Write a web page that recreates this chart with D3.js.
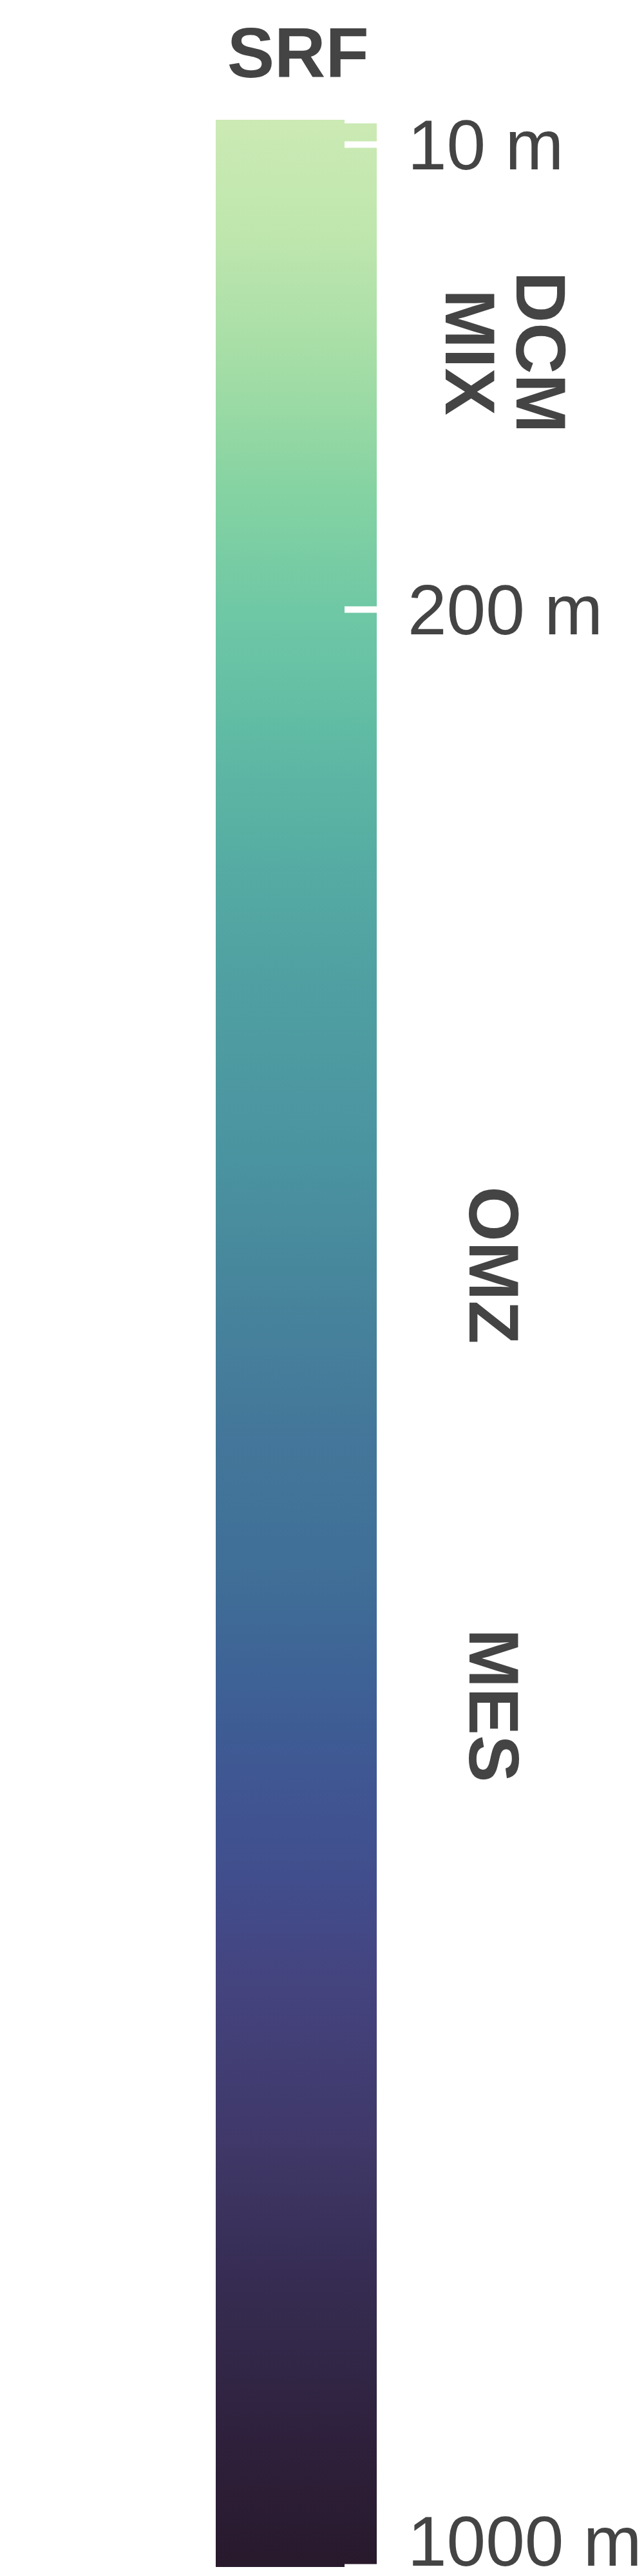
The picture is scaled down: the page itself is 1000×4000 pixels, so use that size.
<!DOCTYPE html>
<html>
<head>
<meta charset="utf-8">
<script src="https://cdn.jsdelivr.net/npm/d3@7"></script>
<style>
  html, body { margin: 0; padding: 0; background: #ffffff; }
  svg { display: block; }
  text { font-family: "Liberation Sans", Arial, Helvetica, sans-serif; fill: #444444; }
</style>
</head>
<body>
<script>
// ---- data ----
const depthDomain = [0, 1000];
const tickDepths = [0, 10, 200, 1000];
const tickLabels = ["", "10 m", "200 m", "1000 m"];
const zoneNames = ["DCM", "MIX", "OMZ", "MES"];
const zoneDepths = [95, 95, 468, 648];
const titleText = "SRF";
// colour ramp (depth in m -> colour)
const rampDepths = [0, 50, 100, 150, 200, 250, 300, 350, 425, 475, 530, 600, 655, 713, 764, 828, 892, 951, 1000];
const rampColors = ["#cceab4", "#bde6ad", "#a4dda6", "#86d3a2", "#6fc8a5", "#60bba4", "#56ada3", "#50a0a2",
                    "#4a93a0", "#47869c", "#44789a", "#3f6d97", "#3e5c95", "#414f8e", "#44437e", "#3f3868",
                    "#352b4f", "#2e203b", "#28192c"];

// ---- layout ----
const W = 1000, H = 4000;
const barX0 = 335, barX1 = 585, barTop = 186, barBottom = 3986;
const tickLen = 50;
const zoneX = { DCM: 801.7, MIX: 691.7, OMZ: 729.3, MES: 729.3 };

const svg = d3.select("body").append("svg").attr("width", W).attr("height", H);

const y = d3.scaleLinear().domain(depthDomain).range([barTop, barBottom]);
const colour = d3.scaleLinear().domain(rampDepths).range(rampColors).interpolate(d3.interpolateRgb);

// gradient
const defs = svg.append("defs");
const grad = defs.append("linearGradient")
  .attr("id", "depthGrad")
  .attr("gradientUnits", "userSpaceOnUse")
  .attr("x1", 0).attr("x2", 0)
  .attr("y1", y(depthDomain[0])).attr("y2", y(depthDomain[1]));
const stops = d3.range(depthDomain[0], depthDomain[1] + 1, 10);
grad.selectAll("stop").data(stops).join("stop")
  .attr("offset", d => (d - depthDomain[0]) / (depthDomain[1] - depthDomain[0]))
  .attr("stop-color", d => colour(d));

svg.append("rect")
  .attr("x", barX0).attr("y", y(depthDomain[0]))
  .attr("width", barX1 - barX0)
  .attr("height", y(depthDomain[1]) - y(depthDomain[0]))
  .attr("fill", "url(#depthGrad)");

// white ticks inside the bar's right edge
const axis = d3.axisLeft(y).tickValues(tickDepths).tickSize(tickLen).tickFormat("");
const ag = svg.append("g").attr("transform", `translate(${barX1},0)`).call(axis);
ag.select(".domain").remove();
ag.selectAll(".tick line").attr("stroke", "#ffffff").attr("stroke-width", 10);

// tick labels (kept within the bar's extent)
svg.append("g").selectAll("text")
  .data(tickDepths.map((d, i) => ({ d, label: tickLabels[i] })).filter(o => o.label))
  .join("text")
  .attr("x", 633)
  .attr("y", o => Math.max(barTop + 77, Math.min(y(o.d) + 39, barBottom - 2)))
  .attr("font-size", 109)
  .attr("text-anchor", "start")
  .text(o => o.label);

// title
svg.append("text")
  .attr("x", 462.7)
  .attr("y", 120)
  .attr("font-size", 110)
  .attr("font-weight", "bold")
  .attr("text-anchor", "middle")
  .text(titleText);

// zone labels (rotated)
svg.append("g").selectAll("text")
  .data(zoneNames.map((n, i) => ({ n, d: zoneDepths[i] })))
  .join("text")
  .attr("transform", o => `translate(${zoneX[o.n]},${y(o.d)}) rotate(90)`)
  .attr("font-size", 110)
  .attr("font-weight", "bold")
  .attr("text-anchor", "middle")
  .text(o => o.n);
</script>
</body>
</html>
